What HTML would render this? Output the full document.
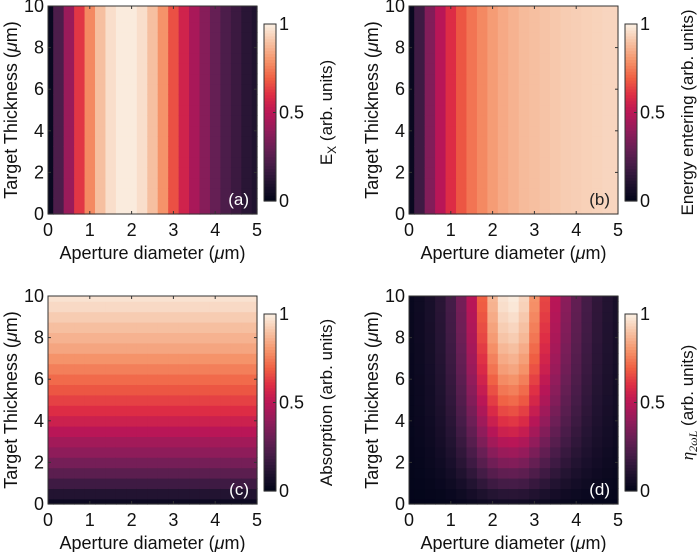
<!DOCTYPE html>
<html><head><meta charset="utf-8"><style>
html,body{margin:0;padding:0;background:#fff;}
svg text{font-family:"Liberation Sans","DejaVu Sans",sans-serif;fill:#111;}
</style></head><body>
<svg id="fig" width="700" height="552" viewBox="0 0 700 552" xmlns="http://www.w3.org/2000/svg"></svg>
<script>
// ---- data ----
const xTicks = [0,1,2,3,4,5];
const yTicks = [0,2,4,6,8,10];
const cbTicks = [0,0.5,1];
const aXs = [0,0.25,0.5,0.75,1,1.25,1.5,1.75,2,2.25,2.5,2.75,3,3.25,3.5,3.75,4,4.25,4.5,4.75,5];
const aVals = [0.02,0.22,0.42,0.62,0.78,0.9,0.97,1,1,0.97,0.9,0.8,0.67,0.56,0.46,0.37,0.29,0.22,0.17,0.12,0.09];
const bVals = [0.02,0.18,0.36,0.5,0.6,0.68,0.74,0.78,0.82,0.85,0.87,0.89,0.9,0.91,0.92,0.93,0.935,0.94,0.945,0.95,0.95];
const cYs = [0,0.5,1,1.5,2,2.5,3,3.5,4,4.5,5,5.5,6,6.5,7,7.5,8,8.5,9,9.5,10];
const cVals = [0.03,0.1,0.18,0.26,0.33,0.39,0.44,0.5,0.55,0.6,0.64,0.68,0.72,0.76,0.8,0.84,0.87,0.9,0.93,0.96,0.98];
const dColVals = [0.02,0.04,0.07,0.12,0.2,0.33,0.5,0.7,0.88,0.98,1,0.95,0.8,0.65,0.5,0.38,0.28,0.2,0.14,0.1,0.07];
const dRowVals = [0.05,0.12,0.2,0.28,0.36,0.43,0.5,0.56,0.62,0.67,0.72,0.76,0.8,0.84,0.87,0.9,0.93,0.95,0.97,0.99,1];

const stops = [[3,5,26],[34,19,49],[69,28,71],[105,31,85],[146,28,91],[185,22,87],[221,44,69],[240,96,67],[245,147,106],[246,191,160],[250,235,221]];
function cmap(v){v=Math.max(0,Math.min(1,v));const p=v*10,i=Math.min(9,Math.floor(p)),t=p-i;const a=stops[i],b=stops[i+1];
 return 'rgb('+a.map((c,k)=>Math.round(c+(b[k]-c)*t)).join(',')+')';}

const NS='http://www.w3.org/2000/svg';
const svg=document.getElementById('fig');
function el(tag,attrs,parent){const e=document.createElementNS(NS,tag);for(const k in attrs)e.setAttribute(k,attrs[k]);(parent||svg).appendChild(e);return e;}

function panel(P){
 const g=el('g',{});
 
 
 const L=P.x0,R=P.x0+209,T=P.y0,B=P.y0+208;
 const sx=v=>L+(v/5)*(R-L), sy=v=>B-(v/10)*(B-T);
 const N=21;
 for(let i=0;i<N;i++){for(let j=0;j<N;j++){
   const val=P.val(i,j);
   const x1=sx(Math.max(0,aXs[i]-0.125)),x2=sx(Math.min(5,aXs[i]+0.125));
   const y1=sy(Math.min(10,cYs[j]+0.25)),y2=sy(Math.max(0,cYs[j]-0.25));
   const r=el('rect',{x:x1,y:y1,width:x2-x1+0.6,height:y2-y1+0.6,fill:cmap(val)},g);
   
   
 }}
 const fr=el('rect',{x:L,y:T,width:R-L,height:B-T,fill:'none',stroke:'#333','stroke-width':1},g);
 
 
 xTicks.forEach(t=>{const x=sx(t);
  el('line',{x1:x,x2:x,y1:B,y2:B-3,stroke:'#333'},g);el('line',{x1:x,x2:x,y1:T,y2:T+3,stroke:'#333'},g);
  const tx=el('text',{x:x,y:B+22,'text-anchor':'middle','font-size':18},g);tx.textContent=t;
  
  });
 yTicks.forEach(t=>{const y=sy(t);
  el('line',{x1:L,x2:L+3,y1:y,y2:y,stroke:'#333'},g);el('line',{x1:R,x2:R-3,y1:y,y2:y,stroke:'#333'},g);
  const tx=el('text',{x:L-4,y:y+6,'text-anchor':'end','font-size':18},g);tx.textContent=t;
  
  });
 const xl=el('text',{x:(L+R)/2,y:B+45,'text-anchor':'middle','font-size':18},g);
 xl.innerHTML='Aperture diameter (<tspan font-style="italic">μ</tspan>m)';
 
 
 const yl=el('text',{x:0,y:0,'text-anchor':'middle','font-size':18,transform:'translate('+(L-31)+','+((T+B)/2)+') rotate(-90)'},g);
 yl.innerHTML='Target Thickness (<tspan font-style="italic">μ</tspan>m)';
 
 
 const lb=el('text',{x:R-8,y:B-9,'text-anchor':'end','font-size':17,fill:P.labelColor},g);
 lb.textContent='('+P.id+')';lb.style.fill=P.labelColor;
 
 
 // colorbar
 const cx=R+7,cw=12,cT=T+18,cB=B-13;
 const cb=el('g',{},g);
 
 
 const n=60;for(let k=0;k<n;k++){const v=k/(n-1);const y=cB-(k+1)*(cB-cT)/n;
   el('rect',{x:cx,y:y,width:cw,height:(cB-cT)/n+0.6,fill:cmap(v)},cb);}
 el('rect',{x:cx,y:cT,width:cw,height:cB-cT,fill:'none',stroke:'#333'},cb);
 cbTicks.forEach(t=>{const y=cB-t*(cB-cT);el('line',{x1:cx+cw,x2:cx+cw-3,y1:y,y2:y,stroke:'#333'},cb);
   const tx=el('text',{x:cx+cw+3,y:y+6,'font-size':18},cb);tx.textContent=t;
   
   });
 const ct=el('text',{x:0,y:0,'text-anchor':'middle','font-size':17,transform:'translate('+(cx+68)+','+((cT+cB)/2)+') rotate(-90)'},cb);
 ct.innerHTML=P.cbTitle;
 
 
}
panel({id:'a',x0:48,y0:6,val:(i,j)=>aVals[i],labelColor:'#fff',cbTitle:'E<tspan font-size="12" dy="4">X</tspan><tspan dy="-4"> (arb. units)</tspan>'});
panel({id:'b',x0:409,y0:6,val:(i,j)=>bVals[i],labelColor:'#222',cbTitle:'Energy entering (arb. units)'});
panel({id:'c',x0:48,y0:296,val:(i,j)=>cVals[j],labelColor:'#fff',cbTitle:'Absorption (arb. units)'});
panel({id:'d',x0:409,y0:296,val:(i,j)=>dColVals[i]*dRowVals[j],labelColor:'#fff',cbTitle:'<tspan font-family="Liberation Serif" font-style="italic">η</tspan><tspan font-size="12" dy="4" font-family="Liberation Serif" font-style="italic">2ωL</tspan><tspan dy="-4"> (arb. units)</tspan>'});
</script>
</body></html>
